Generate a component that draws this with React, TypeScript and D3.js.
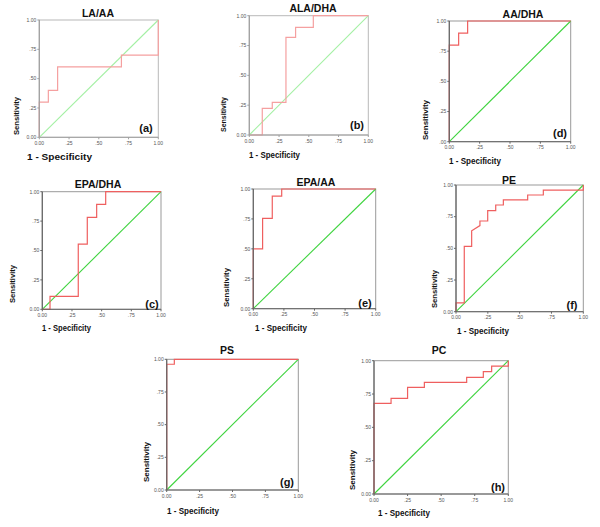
import React from "react";
import * as d3 from "d3";

// ---- data ----
const panelIds = ["a", "b", "d", "c", "e", "f", "g", "h"];
const panelTitles = ["LA/AA", "ALA/DHA", "AA/DHA", "EPA/DHA", "EPA/AA", "PE", "PS", "PC"];
const panelTags = ["(a)", "(b)", "(d)", "(c)", "(e)", "(f)", "(g)", "(h)"];
const tickValues = [0, 0.25, 0.5, 0.75, 1];
const tickLabelsStd = ["0.00", ".25", ".50", ".75", "1.00"];
const tickLabelsYd = [".00", ".25", ".50", ".75", "1.00"];

const rocA: [number, number][] = [[0, 0], [0, 0.3], [0.076, 0.3], [0.076, 0.4], [0.154, 0.4], [0.154, 0.6], [0.69, 0.6], [0.69, 0.7], [1, 0.7], [1, 1]];
const rocB: [number, number][] = [[0, 0], [0.109, 0], [0.109, 0.223], [0.193, 0.223], [0.193, 0.274], [0.308, 0.274], [0.308, 0.818], [0.389, 0.818], [0.389, 0.902], [0.538, 0.902], [0.538, 1], [1, 1]];
const rocD: [number, number][] = [[0, 0], [0, 0.8], [0.077, 0.8], [0.077, 0.9], [0.151, 0.9], [0.151, 1], [1, 1]];
const rocC: [number, number][] = [[0, 0], [0.065, 0], [0.065, 0.11], [0.303, 0.11], [0.303, 0.555], [0.379, 0.555], [0.379, 0.782], [0.458, 0.782], [0.458, 0.892], [0.534, 0.892], [0.534, 1], [1, 1]];
const rocE: [number, number][] = [[0, 0], [0, 0.5], [0.076, 0.5], [0.076, 0.755], [0.155, 0.755], [0.155, 0.94], [0.232, 0.94], [0.232, 1], [1, 1]];
const rocF: [number, number][] = [[0, 0], [0, 0.07], [0.065, 0.07], [0.065, 0.516], [0.123, 0.516], [0.123, 0.639], [0.188, 0.68], [0.188, 0.716], [0.249, 0.716], [0.249, 0.797], [0.312, 0.797], [0.312, 0.842], [0.372, 0.842], [0.372, 0.882], [0.563, 0.882], [0.563, 0.921], [0.686, 0.921], [0.686, 0.96], [1, 0.96], [1, 1]];
const rocG: [number, number][] = [[0, 0], [0, 0.962], [0.058, 0.962], [0.058, 1], [1, 1]];
const rocH: [number, number][] = [[0, 0], [0, 0.68], [0.127, 0.68], [0.127, 0.7175], [0.25, 0.7175], [0.25, 0.8], [0.375, 0.8], [0.375, 0.8375], [0.69, 0.8375], [0.69, 0.875], [0.814, 0.875], [0.814, 0.9175], [0.876, 0.9175], [0.876, 0.96], [1, 0.96], [1, 1]];
const rocCurves = [rocA, rocB, rocD, rocC, rocE, rocF, rocG, rocH];

// ---- layout (positions & styles) ----
type Layout = {
  rect: [number, number, number, number];
  title: [number, number];
  ylab: [number, number, number];
  xlab: [number, number, number];
  tag: [number, number];
  light: boolean;
};
const layouts: Layout[] = [
  { rect: [39.3, 20, 158.3, 137.3], title: [98, 17], ylab: [16, 116, 38], xlab: [27, 159.5, 65], tag: [146, 131.5], light: true },
  { rect: [249.3, 15.7, 368.3, 135], title: [313, 12], ylab: [223, 114.5, 35], xlab: [249, 158, 51], tag: [357, 128.5], light: true },
  { rect: [449.3, 21, 570.7, 141.7], title: [523, 18], ylab: [425, 120, 40], xlab: [449, 164, 52], tag: [560, 136.5], light: false },
  { rect: [42.3, 191.7, 161, 309.3], title: [98, 188], ylab: [12, 284, 38], xlab: [42, 331, 49], tag: [152, 307.5], light: false },
  { rect: [253.3, 189, 375.7, 308.7], title: [316, 186], ylab: [226, 287.5, 39], xlab: [255, 331, 52], tag: [365, 306.5], light: false },
  { rect: [456, 185, 583.3, 311.7], title: [509, 184], ylab: [434, 289, 38], xlab: [457, 334, 52], tag: [572, 308.5], light: false },
  { rect: [166.7, 359.3, 298.3, 490], title: [227, 354], ylab: [146, 462, 40], xlab: [167, 514, 52], tag: [287, 485.5], light: false },
  { rect: [374, 360.7, 508.3, 494], title: [439, 354], ylab: [352, 470, 40], xlab: [378, 516, 52], tag: [498, 490.5], light: false },
];

const FONT = "Liberation Sans, Arial, sans-serif";

function Panel({ i }: { i: number }) {
  const L = layouts[i];
  const [x0, y0, x1, y1] = L.rect;
  const x = d3.scaleLinear().domain([0, 1]).range([x0, x1]);
  const y = d3.scaleLinear().domain([0, 1]).range([y1, y0]);
  const line = d3.line<[number, number]>().x((d) => x(d[0])).y((d) => y(d[1]));
  const curveColor = L.light ? "#f5a0a0" : "#ef5f5f";
  const diagColor = L.light ? "#a4f0a4" : "#3fd43f";
  const frameColor = L.light ? "#b8b8b8" : "#999";
  const axisColor = L.light ? "#a0a0a0" : "#666";
  const yLabels = panelIds[i] === "d" ? tickLabelsYd : tickLabelsStd;
  return (
    <g>
      <rect x={x0} y={y0} width={x1 - x0} height={y1 - y0} fill="none" stroke={frameColor} strokeWidth={1} />
      <path d={line([[0, 0], [1, 1]]) || ""} fill="none" stroke={diagColor} strokeWidth={1.1} />
      <path d={line(rocCurves[i]) || ""} fill="none" stroke={curveColor} strokeWidth={1.2} />
      <line x1={x0} x2={x0} y1={y0} y2={y1} stroke={axisColor} strokeWidth={1.2} />
      <line x1={x0} x2={x1} y1={y1} y2={y1} stroke={axisColor} strokeWidth={1} />
      {tickValues.map((t, k) => (
        <g key={"t" + k}>
          <line x1={x0 - 2} x2={x0} y1={y(t)} y2={y(t)} stroke={axisColor} strokeWidth={1} />
          <line x1={x(t)} x2={x(t)} y1={y1} y2={y1 + 2} stroke={axisColor} strokeWidth={1} />
          <text x={x0 - 3} y={y(t) + 1.8} fontSize={5} textAnchor="end" fill="#555" fontFamily={FONT}>
            {yLabels[k]}
          </text>
          <text x={x(t)} y={y1 + 7.5} fontSize={5} textAnchor="middle" fill="#555" fontFamily={FONT}>
            {tickLabelsStd[k]}
          </text>
        </g>
      ))}
      <text x={L.title[0]} y={L.title[1]} fontSize={10.5} fontWeight="bold" textAnchor="middle" fontFamily={FONT} fill="#111">
        {panelTitles[i]}
      </text>
      <text
        transform={`translate(${L.ylab[0] + 3},${L.ylab[1]}) rotate(-90)`}
        fontSize={8}
        fontWeight="bold"
        textAnchor="middle"
        fontFamily={FONT}
        fill="#111"
        textLength={L.ylab[2]}
        lengthAdjust="spacingAndGlyphs"
      >
        Sensitivity
      </text>
      <text
        x={L.xlab[0]}
        y={L.xlab[1]}
        fontSize={9}
        fontWeight="bold"
        fontFamily={FONT}
        fill="#111"
        textLength={L.xlab[2]}
        lengthAdjust="spacingAndGlyphs"
      >
        1 - Specificity
      </text>
      <text x={L.tag[0]} y={L.tag[1]} fontSize={11} fontWeight="bold" textAnchor="middle" fontFamily={FONT} fill="#111">
        {panelTags[i]}
      </text>
    </g>
  );
}

export default function App() {
  return (
    <svg width={600} height={527} style={{ position: "absolute", left: 0, top: 0, background: "#fff" }}>
      <rect width={600} height={527} fill="#fff" />
      {panelIds.map((id, i) => (
        <Panel key={id} i={i} />
      ))}
    </svg>
  );
}
